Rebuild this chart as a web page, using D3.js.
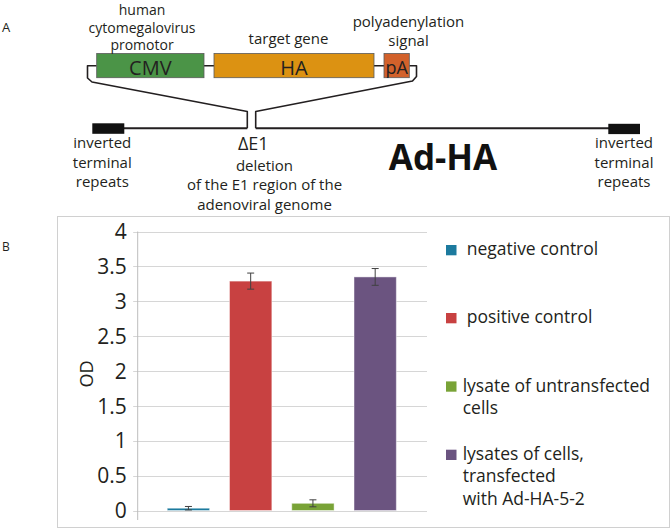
<!DOCTYPE html>
<html>
<head>
<meta charset="utf-8">
<script src="https://cdn.jsdelivr.net/npm/d3@7"></script>
<style>
  html, body { margin: 0; padding: 0; background: #fff; }
  svg { display: block; font-family: "Open Sans", sans-serif; }
</style>
</head>
<body>
<svg id="fig" width="672" height="529"></svg>
<script>
// ---------- DATA ----------
const categories = ["negative control", "positive control", "lysate of untransfected cells", "lysates of cells, transfected with Ad-HA-5-2"];
const values = [0.04, 3.29, 0.11, 3.35];
const errors = [0.025, 0.115, 0.05, 0.12];
const barColors = ["#1c7a9e", "#c84141", "#79a337", "#6b5480"];
const yTicks = [0, 0.5, 1, 1.5, 2, 2.5, 3, 3.5, 4];
const yTickLabels = ["0", "0.5", "1", "1.5", "2", "2.5", "3", "3.5", "4"];
const legendLines = [["negative control"], ["positive control"], ["lysate of untransfected", "cells"], ["lysates of cells,", "transfected", "with Ad-HA-5-2"]];
const yLabel = "OD";

// diagram content
const cassetteParts = ["CMV", "HA", "pA"];
const cassetteColors = ["#4b9447", "#dc9212", "#d2612b"];
const cassetteNotes = [["human", "cytomegalovirus", "promotor"], ["target gene"], ["polyadenylation", "signal"]];
const itrNote = ["inverted", "terminal", "repeats"];
const deletionNote = ["deletion", "of the E1 region of the", "adenoviral genome"];
const vectorName = "Ad-HA";

const svg = d3.select("#fig");
const ink = "#231f20";

// ---------- PANEL A : schematic ----------
const A = svg.append("g");
A.append("text").attr("x", 2).attr("y", 32).attr("font-size", 13).attr("fill", ink).text("A");

const boxX = [[96.7, 204], [214, 374], [384, 409.3]];
const boxTop = 53.5, boxBot = 77.7, boxMid = 65.7;
A.append("path").attr("fill", "none").attr("stroke", ink).attr("stroke-width", 1.5)
  .attr("d", `M${boxX[0][1]},${boxMid}H${boxX[1][0]}M${boxX[1][1]},${boxMid}H${boxX[2][0]}`);
A.append("path").attr("fill", "none").attr("stroke", ink).attr("stroke-width", 1.6)
  .attr("stroke-linejoin", "round")
  .attr("d", `M${boxX[0][0]},${boxMid}H87.5V78L92,82L247.3,111.5V128.3`);
A.append("path").attr("fill", "none").attr("stroke", ink).attr("stroke-width", 1.6)
  .attr("stroke-linejoin", "round")
  .attr("d", `M${boxX[2][1]},${boxMid}H416.5V76.5L412.5,81L255.7,111.5V128.3`);

cassetteParts.forEach((p, i) => {
  A.append("rect").attr("x", boxX[i][0]).attr("y", boxTop)
    .attr("width", boxX[i][1] - boxX[i][0]).attr("height", boxBot - boxTop)
    .attr("fill", cassetteColors[i]).attr("stroke", "#5a5a5a").attr("stroke-width", 0.8);
  const cx = (boxX[i][0] + boxX[i][1]) / 2;
  A.append("text").attr("x", cx).attr("y", i === 2 ? 73.5 : 74.5)
    .attr("text-anchor", "middle").attr("font-size", i === 2 ? 18 : 20).attr("fill", ink).text(p);
});
const noteCx = [142, 288.5, 408.5];
const noteBase = [[15, 32.5, 50], [43.5], [26.5, 45.5]];
const noteSize = [14, 15, 15];
cassetteNotes.forEach((lines, i) => {
  lines.forEach((t, j) => {
    A.append("text").attr("x", noteCx[i]).attr("y", noteBase[i][j])
      .attr("text-anchor", "middle").attr("font-size", noteSize[i]).attr("fill", ink).text(t);
  });
});

// genome line
A.append("path").attr("fill", "none").attr("stroke", ink).attr("stroke-width", 2)
  .attr("d", "M124,128.3H247.3M255.7,128.3H609");
A.append("rect").attr("x", 92.3).attr("y", 123.3).attr("width", 32).attr("height", 10.5).attr("fill", "#111");
A.append("rect").attr("x", 608.3).attr("y", 123.8).attr("width", 31.7).attr("height", 10.3).attr("fill", "#111");

[102.3, 624].forEach(cx => {
  itrNote.forEach((t, j) => {
    A.append("text").attr("x", cx).attr("y", 148.3 + j * 19.5)
      .attr("text-anchor", "middle").attr("font-size", 15).attr("fill", ink).text(t);
  });
});
A.append("text").attr("x", 253.3).attr("y", 150).attr("text-anchor", "middle")
  .attr("font-size", 18).attr("fill", ink).text("\u0394E1");
deletionNote.forEach((t, j) => {
  A.append("text").attr("x", 264.5).attr("y", 170.7 + j * 19.7)
    .attr("text-anchor", "middle").attr("font-size", 15).attr("fill", ink).text(t);
});
A.append("text").attr("x", 443).attr("y", 170).attr("text-anchor", "middle")
  .attr("font-size", 35).attr("font-weight", "bold").attr("fill", "#111").text(vectorName);

// ---------- PANEL B : bar chart ----------
const B = svg.append("g");
B.append("text").attr("x", 2).attr("y", 251).attr("font-size", 12).attr("fill", ink).text("B");
B.append("rect").attr("x", 57.5).attr("y", 216.5).attr("width", 612).attr("height", 311)
  .attr("fill", "none").attr("stroke", "#d0d0d0").attr("stroke-width", 1);

const y = d3.scaleLinear().domain([0, 4]).range([511, 231.5]);
const x = d3.scaleBand().domain(categories).range([157.3, 406.3]).paddingInner(0.32).paddingOuter(0.16);
const axisX = 137.7, plotRight = 427;

B.append("g").selectAll("line").data(yTicks).join("line")
  .attr("x1", axisX - 4.5).attr("x2", plotRight)
  .attr("y1", d => Math.round(y(d)) + 0.5).attr("y2", d => Math.round(y(d)) + 0.5)
  .attr("stroke", "#d6d6d6").attr("stroke-width", 1);
B.append("line").attr("x1", axisX).attr("x2", axisX).attr("y1", y(4)).attr("y2", 520)
  .attr("stroke", "#bdbdbd").attr("stroke-width", 1);
B.append("g").selectAll("text").data(yTicks).join("text")
  .attr("x", 126.7).attr("y", d => y(d)).attr("dy", "0.35em")
  .attr("text-anchor", "end").attr("font-size", 21).attr("fill", ink)
  .text((d, i) => yTickLabels[i]);
B.append("text").attr("transform", "translate(93.3,374) rotate(-90)")
  .attr("text-anchor", "middle").attr("font-size", 18).attr("fill", ink).text(yLabel);

B.append("g").selectAll("rect").data(categories).join("rect")
  .attr("x", d => x(d)).attr("width", x.bandwidth())
  .attr("y", (d, i) => y(values[i])).attr("height", (d, i) => y(0) - y(values[i]) - 0.5)
  .attr("fill", (d, i) => barColors[i])
  .attr("stroke", "#ffffff").attr("stroke-opacity", 0.45).attr("stroke-width", 1);

const eb = B.append("g").attr("stroke", "#404040").attr("stroke-width", 1);
categories.forEach((c, i) => {
  const cx = x(c) + x.bandwidth() / 2;
  const hi = y(values[i] + errors[i]), lo = y(values[i] - errors[i]);
  eb.append("line").attr("x1", cx).attr("x2", cx).attr("y1", hi).attr("y2", lo);
  eb.append("line").attr("x1", cx - 3.5).attr("x2", cx + 3.5).attr("y1", hi).attr("y2", hi);
  eb.append("line").attr("x1", cx - 3.5).attr("x2", cx + 3.5).attr("y1", lo).attr("y2", lo);
});

const legBase = [255.3, 323.3, 391.7, 460];
const legTextX = [466.7, 466.7, 462.7, 462.7];
legendLines.forEach((lines, i) => {
  B.append("rect").attr("x", 446).attr("y", legBase[i] - 10.3).attr("width", 10.5).attr("height", 10.3)
    .attr("fill", barColors[i]);
  lines.forEach((t, j) => {
    B.append("text").attr("x", legTextX[i]).attr("y", legBase[i] + j * 22.3)
      .attr("font-size", 17.5).attr("fill", ink).text(t);
  });
});
</script>
</body>
</html>
